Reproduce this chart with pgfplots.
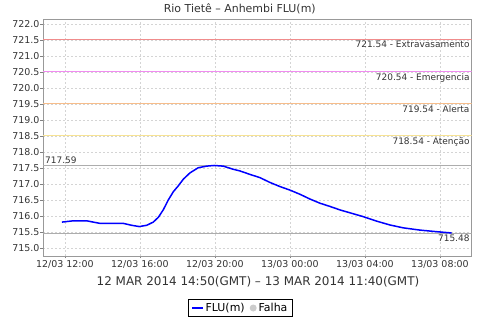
\documentclass[border=0pt]{standalone}
\usepackage{pgfplots}
\pgfplotsset{compat=1.18}
\usepackage{fontspec}
\setmainfont{DejaVu Sans}
\definecolor{thrA}{rgb}{0.94,0.55,0.55}
\definecolor{thrB}{rgb}{0.94,0.55,0.94}
\definecolor{thrC}{rgb}{0.97,0.74,0.54}
\definecolor{thrD}{rgb}{0.97,0.89,0.58}
\colorlet{gridc}{black!17}
\colorlet{limc}{black!32}
\colorlet{txt}{black!80}
\begin{document}
\begin{tikzpicture}
\useasboundingbox (0,0) rectangle (480bp,320bp);
\begin{axis}[
  at={(43bp,64bp)}, anchor=south west,
  scale only axis, width=428.7bp, height=236.7bp,
  xmin=10.83, xmax=33.69, ymin=714.76, ymax=722.16,
  xtick={12,16,20,24,28,32},
  xticklabels={12/03 12:00,12/03 16:00,12/03 20:00,13/03 00:00,13/03 04:00,13/03 08:00},
  ytick={715,715.5,...,722.1},
  yticklabel style={/pgf/number format/fixed, /pgf/number format/fixed zerofill, /pgf/number format/precision=1, /pgf/number format/assume math mode=true, /pgf/number format/1000 sep={}},
  yticklabel style={inner sep=0.8bp, text=txt},
  xticklabel style={inner sep=2bp, text=txt},
  tick label style={font=\fontsize{9.5}{11}\selectfont},
  tick align=outside, tick pos=left, major tick length=2.5bp,
  tick style={draw=gray, line width=0.6bp},
  axis line style={draw=gray!80, line width=0.8bp},
  grid=major,
  major grid style={draw=gridc, line width=0.5bp, dash pattern=on 2bp off 2bp},
  title={Rio Tietê – Anhembi FLU(m)},
  title style={at={(0.459,1.0055)}, anchor=base, font=\fontsize{11}{13}\selectfont, text=txt},
  xlabel={12 MAR 2014 14:50(GMT) – 13 MAR 2014 11:40(GMT)},
  xlabel style={at={(0.5015,-0.1255)}, anchor=base, font=\fontsize{12}{14}\selectfont, text=txt},
  legend style={at={(0.4607,-0.2197)}, anchor=center, draw=black, line width=0.8bp,
    font=\fontsize{11}{13}\selectfont, inner xsep=3bp, inner ysep=1.5bp, row sep=0pt,
    /tikz/every even column/.append style={column sep=3bp}},
  legend columns=2,
  legend cell align=left,
  legend image code/.code={\draw[#1, line width=1.5bp] (0bp,0bp) -- (10.5bp,0bp);},
  clip=true,
]
% threshold lines
\addplot[color=thrA, line width=1.1bp, forget plot] coordinates {(10.83,721.54) (33.69,721.54)};
\addplot[color=thrB, line width=1.1bp, forget plot] coordinates {(10.83,720.54) (33.69,720.54)};
\addplot[color=thrC, line width=1.1bp, forget plot] coordinates {(10.83,719.54) (33.69,719.54)};
\addplot[color=thrD, line width=1.1bp, forget plot] coordinates {(10.83,718.54) (33.69,718.54)};
% max / min lines
\addplot[color=limc, line width=0.8bp, forget plot] coordinates {(10.83,717.59) (33.69,717.59)};
\addplot[color=limc, line width=0.8bp, forget plot] coordinates {(10.83,715.48) (33.69,715.48)};
% labels
\node[anchor=north east, inner sep=2bp, font=\fontsize{9}{10}\selectfont, text=txt] at (axis cs:33.69,721.54) {721.54 - Extravasamento};
\node[anchor=north east, inner sep=2bp, font=\fontsize{9}{10}\selectfont, text=txt] at (axis cs:33.69,720.54) {720.54 - Emergencia};
\node[anchor=north east, inner sep=2bp, font=\fontsize{9}{10}\selectfont, text=txt] at (axis cs:33.69,719.54) {719.54 - Alerta};
\node[anchor=north east, inner sep=2bp, font=\fontsize{9}{10}\selectfont, text=txt] at (axis cs:33.69,718.54) {718.54 - Atenção};
\node[anchor=south west, inner sep=2bp, font=\fontsize{9}{10}\selectfont, text=txt] at (axis cs:10.83,717.59) {717.59};
\node[anchor=north east, inner sep=2bp, font=\fontsize{9}{10}\selectfont, text=txt] at (axis cs:33.69,715.48) {715.48};
% data
\addplot[blue, line width=1.5bp, mark=none] coordinates {
(11.84,715.82) (12.44,715.86) (13.16,715.86) (13.51,715.82) (13.87,715.78)
(15.11,715.78) (15.56,715.72) (15.96,715.68) (16.36,715.72) (16.71,715.82)
(16.98,715.97) (17.24,716.20) (17.51,716.51) (17.78,716.77) (18.04,716.95)
(18.31,717.16) (18.67,717.36) (19.11,717.52) (19.56,717.57) (19.95,717.59)
(20.44,717.57) (20.98,717.47) (21.33,717.42) (21.87,717.31) (22.40,717.21)
(22.93,717.06) (23.47,716.93) (24.00,716.82) (24.53,716.69) (25.07,716.54)
(25.60,716.41) (26.13,716.31) (26.67,716.20) (27.20,716.11) (27.91,715.99)
(28.62,715.85) (29.33,715.73) (30.04,715.64) (30.93,715.57) (31.82,715.52)
(32.62,715.48)};
\addlegendentry{FLU(m)}
\addlegendimage{only marks, mark=*, draw=none, fill=gray!40,
  legend image code/.code={\fill[gray!40] (4bp,0bp) circle (3.5bp);}}
\addlegendentry{Falha}
\end{axis}
\end{tikzpicture}
\end{document}
